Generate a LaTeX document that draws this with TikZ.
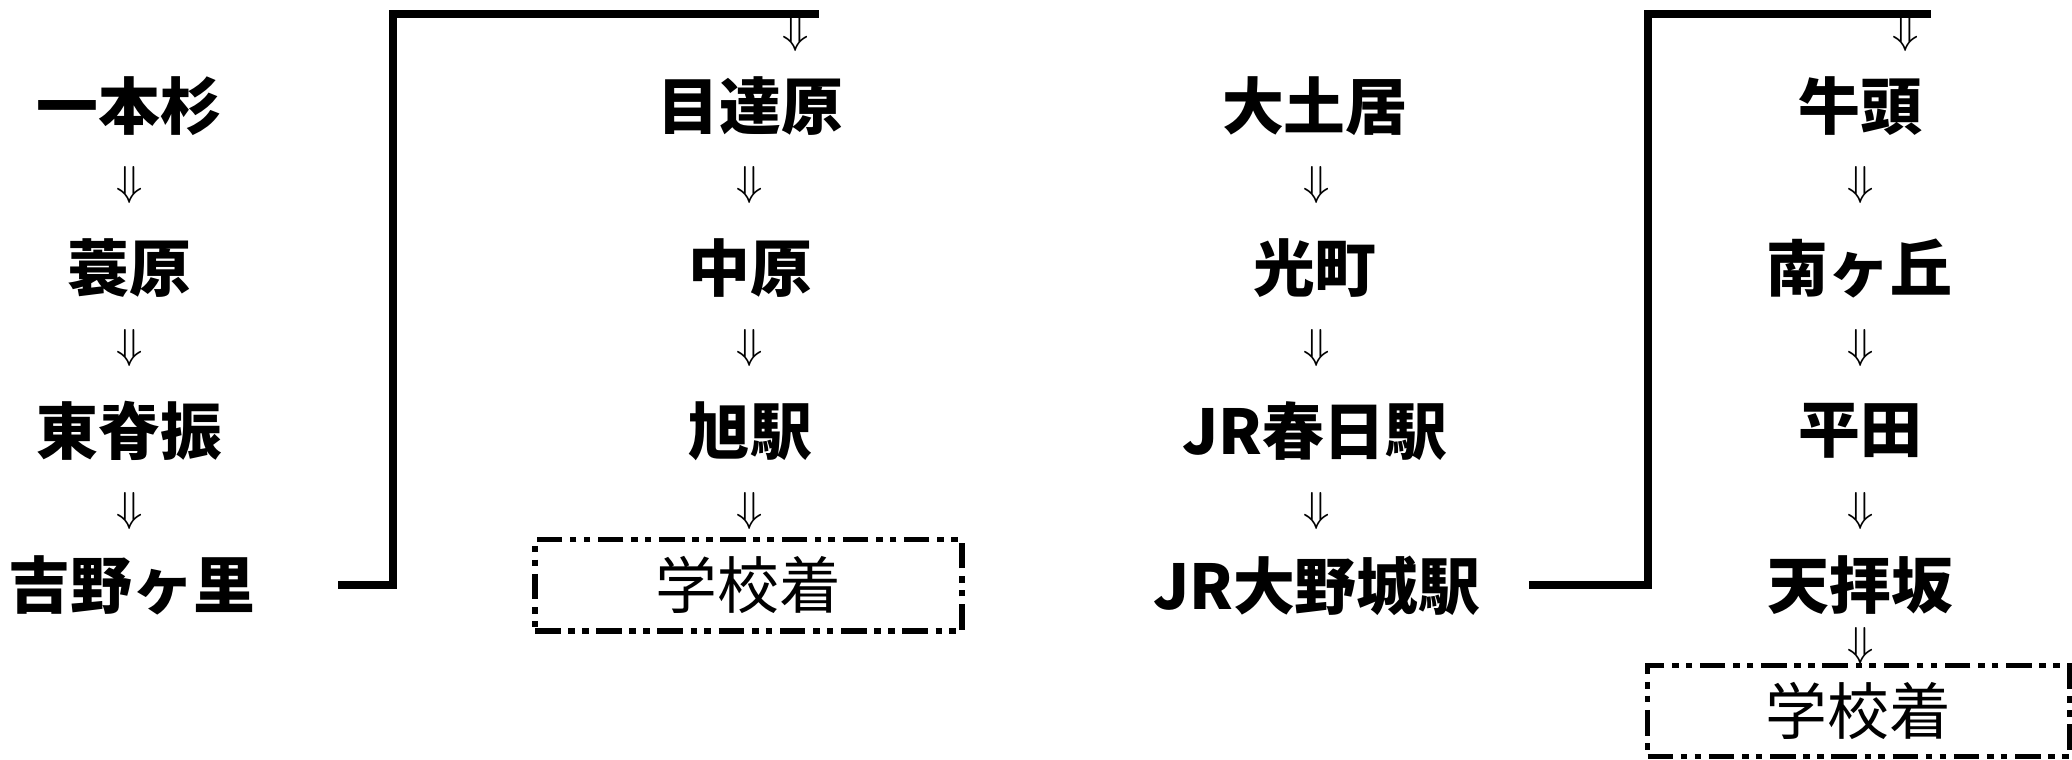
\documentclass[tikz,border=0pt]{standalone}
\usepackage{amsmath}
\usepackage{fontspec}
\newfontfamily\jpfont{Noto Sans CJK JP}
\usepackage{tikz}

\begin{document}
\begin{tikzpicture}[x=0.01cm,y=-0.01cm,
  stop/.style={font=\jpfont\bfseries\fontsize{13.3}{14}\selectfont,inner sep=0pt},
  down/.style={font=\fontsize{9}{9}\selectfont,inner sep=0pt},
  goal/.style={draw,line width=1.15pt,dash pattern=on 0.193cm off 0.058cm on 0.05cm off 0.054cm on 0.05cm off 0.058cm,
    minimum height=0.69cm,inner sep=0pt,font=\jpfont\fontsize{13.3}{14}\selectfont},
  bus/.style={line width=1.7pt}]
\useasboundingbox (0,0) rectangle (1568,575);
\def\ra{80}
\def\rb{203}
\def\rc{326}
\def\rd{443}
\node[stop] (ippongi) at (98,\ra) {一本杉};
\node[down] (a1) at (98,140) {$\Downarrow$};
\node[stop] (minoharu) at (98,\rb) {蓑原};
\node[down] (a2) at (98,263) {$\Downarrow$};
\node[stop] (higashi) at (98,\rc) {東脊振};
\node[down] (a3) at (98,387) {$\Downarrow$};
\node[stop] (yoshino) at (100,\rd) {吉野ヶ里};
\node[down] (b0) at (602,25) {$\Downarrow$};
\node[stop] (metabaru) at (568,\ra) {目達原};
\node[down] (b1) at (567,140) {$\Downarrow$};
\node[stop] (nakabaru) at (568,\rb) {中原};
\node[down] (b2) at (567,263) {$\Downarrow$};
\node[stop] (asahi) at (568,\rc) {旭駅};
\node[down] (b3) at (567,387) {$\Downarrow$};
\node[goal,minimum width=3.23cm] (school1) at (566.5,\rd) {学校着};
\node[stop] (oodoi) at (995,\ra) {大土居};
\node[down] (c1) at (996,140) {$\Downarrow$};
\node[stop] (hikari) at (995,\rb) {光町};
\node[down] (c2) at (996,263) {$\Downarrow$};
\node[stop] (kasuga) at (995,\rc) {JR春日駅};
\node[down] (c3) at (996,387) {$\Downarrow$};
\node[stop] (oonojo) at (996.5,\rd) {JR大野城駅};
\node[down] (d0) at (1442,25) {$\Downarrow$};
\node[stop] (gozu) at (1408,\ra) {牛頭};
\node[down] (d1) at (1408,140) {$\Downarrow$};
\node[stop] (minami) at (1407,\rb) {南ヶ丘};
\node[down] (d2) at (1408,263) {$\Downarrow$};
\node[stop] (hirata) at (1408,\rc) {平田};
\node[down] (d3) at (1408,387) {$\Downarrow$};
\node[stop] (tenpai) at (1408,\rd) {天拝坂};
\node[down] (d4) at (1408,489) {$\Downarrow$};
\node[goal,minimum width=3.19cm] (school2) at (1406.5,538) {学校着};
\coordinate (L0) at (256,\rd);
\coordinate (L1) at (620,10.6);
\coordinate (R0) at (1157,\rd);
\coordinate (R1) at (1461,10.6);
\draw[bus] (L0) -- (297.5,\rd) |- (L1);
\draw[bus] (R0) -- (1247,\rd) |- (R1);
\end{tikzpicture}
\end{document}
